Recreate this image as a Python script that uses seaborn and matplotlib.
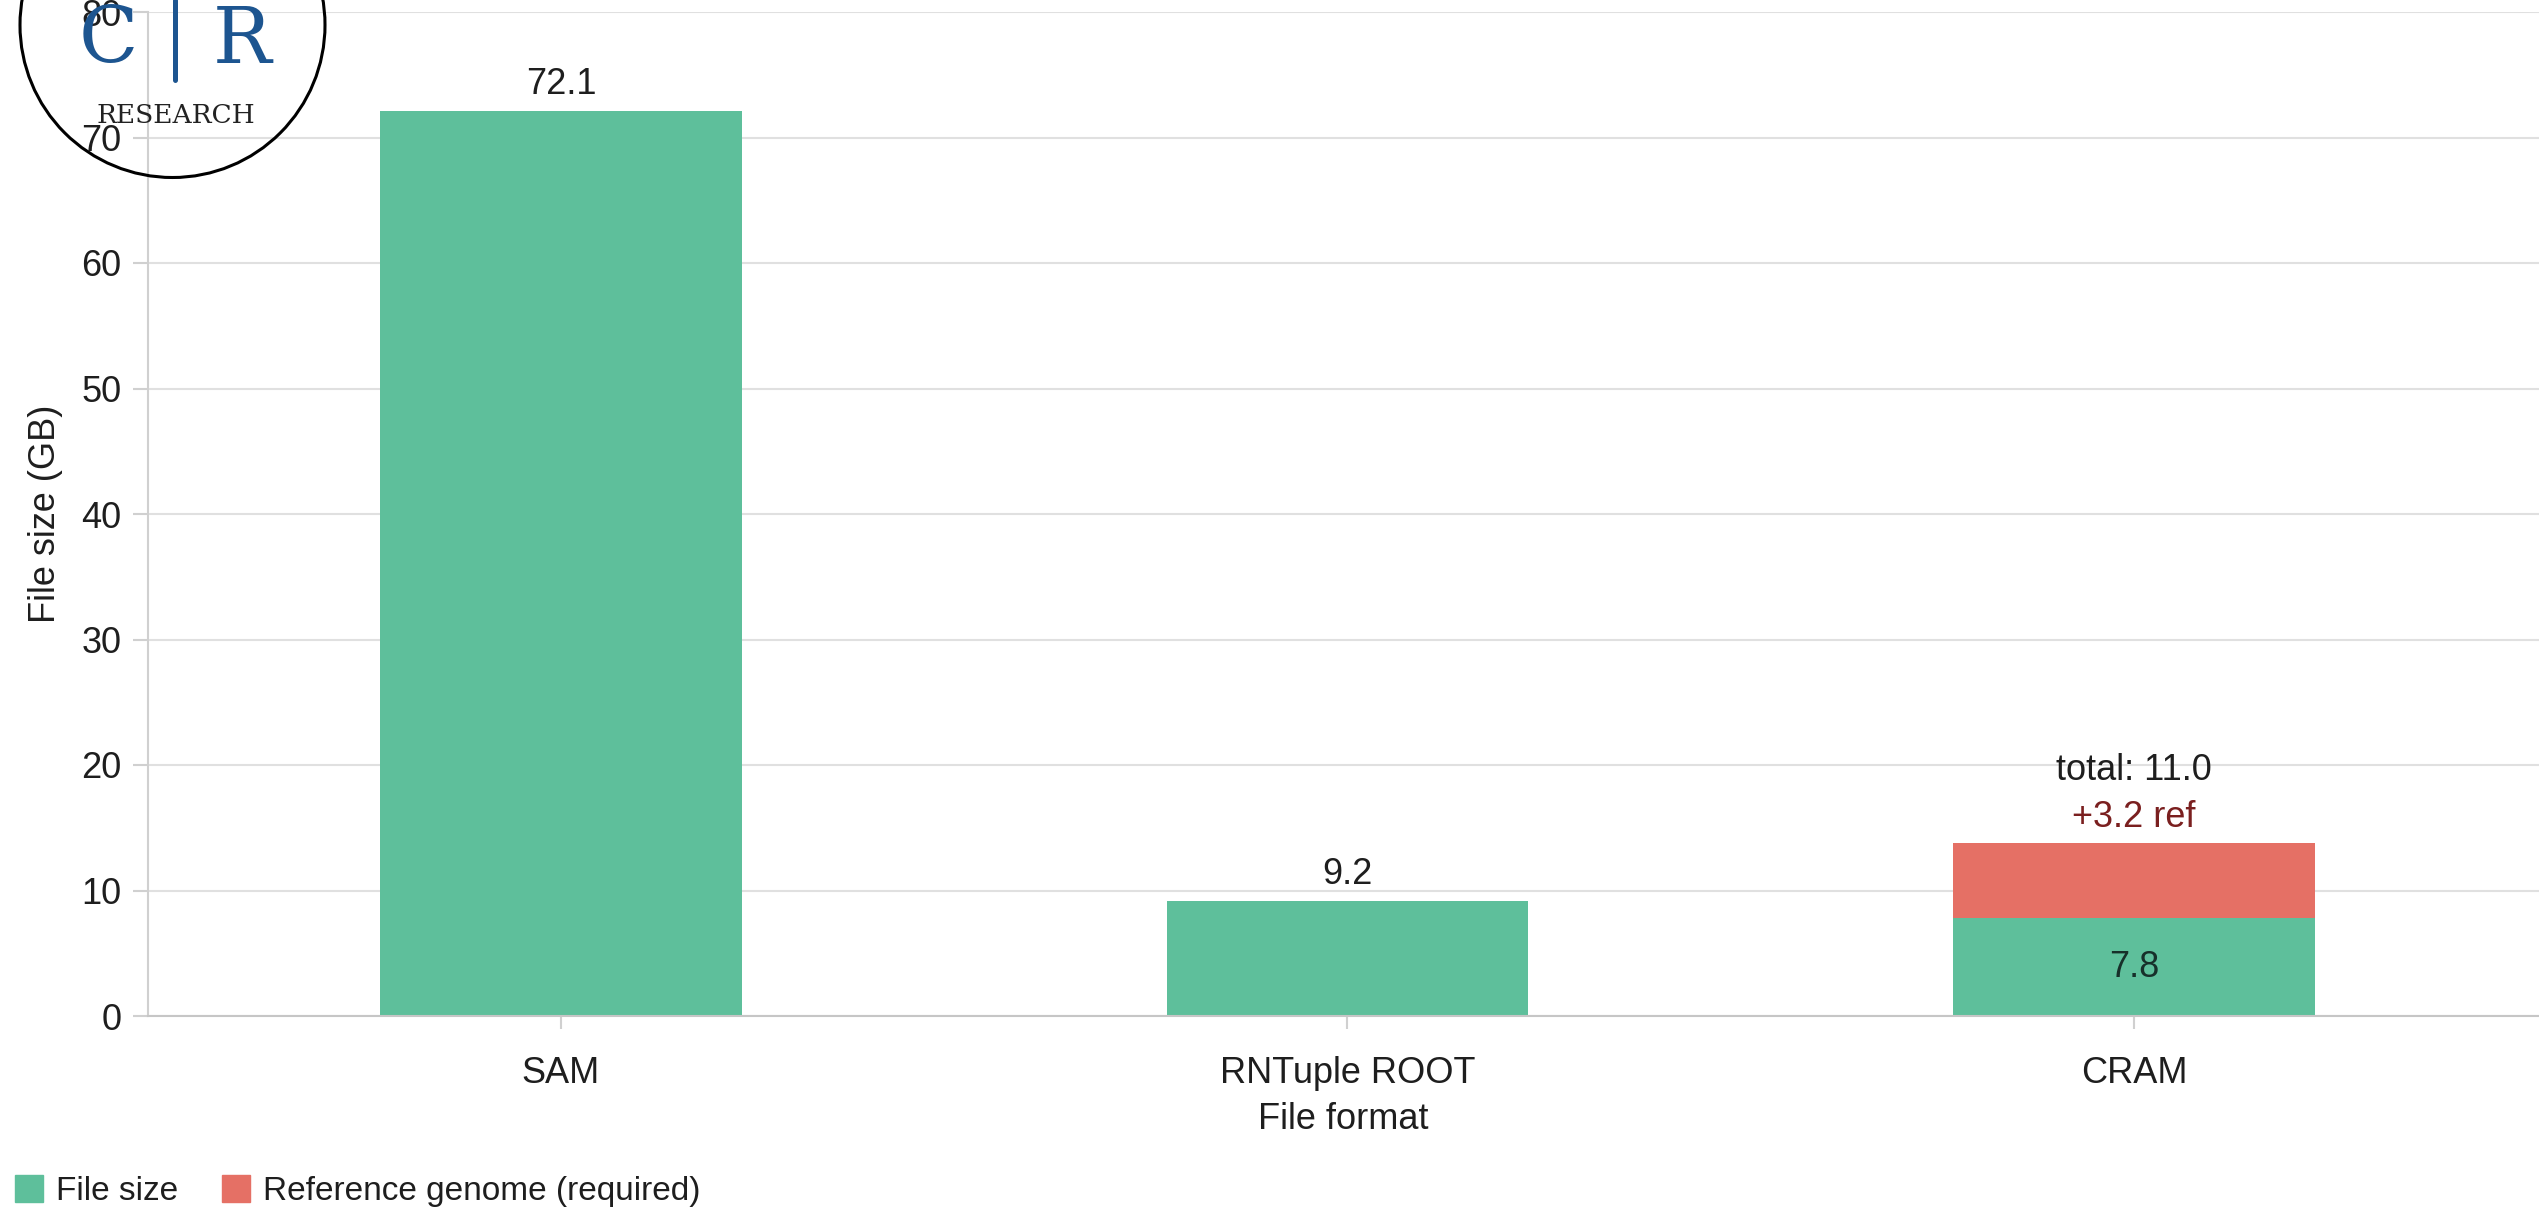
import matplotlib
matplotlib.use("Agg")
import matplotlib.pyplot as plt
from matplotlib.patches import Patch, Ellipse
from matplotlib.lines import Line2D
import pandas as pd
import seaborn as sns

# values
formats = ["SAM", "RNTuple ROOT", "CRAM"]
file_size = [72.1, 9.2, 7.8]
ref_genome = [0.0, 0.0, 6.0]   # red segment height as drawn in the picture
size_labels = ["72.1", "9.2", "7.8"]
total_label = "total: 11.0"
ref_label = "+3.2 ref"
yticks = [0, 10, 20, 30, 40, 50, 60, 70, 80]

GREEN = "#5ebf9b"
RED = "#e57065"
DARKRED = "#7a1f1f"
BLUE = "#1d5590"
TEXT = "#1e1e1e"

W, H = 2539, 1212

df = pd.DataFrame({"format": formats, "size": file_size, "ref": ref_genome})
df["top"] = [s + r if r > 0 else 0 for s, r in zip(df["size"], df["ref"])]

sns.set_theme(style="white")
plt.rcParams["font.family"] = ["Liberation Sans", "DejaVu Sans"]

fig = plt.figure(figsize=(W / 100, H / 100), dpi=100)
ax = fig.add_axes([148 / W, 1 - 1016 / H, 1 - 148 / W, (1016 - 12) / H])

# stacked bars: red reference segment underneath, green file size on top
sns.barplot(data=df, x="format", y="top", order=formats, color=RED,
            saturation=1, width=0.46, errorbar=None, linewidth=0, ax=ax)
sns.barplot(data=df, x="format", y="size", order=formats, color=GREEN,
            saturation=1, width=0.46, errorbar=None, linewidth=0, ax=ax)

for i, (s, r, lab) in enumerate(zip(file_size, ref_genome, size_labels)):
    if r > 0:
        ax.text(i, s / 2, lab, ha="center", va="center", fontsize=26,
                color="#17302a")
        ax.annotate(ref_label, (i, s + r), xytext=(0, 11.5),
                    textcoords="offset points", ha="center", va="baseline",
                    fontsize=26, color=DARKRED)
        ax.annotate(total_label, (i, s + r), xytext=(0, 45),
                    textcoords="offset points", ha="center", va="baseline",
                    fontsize=26, color=TEXT)
    else:
        ax.annotate(lab, (i, s), xytext=(0, 12), textcoords="offset points",
                    ha="center", va="baseline", fontsize=26, color=TEXT)

ax.set_xlim(-0.525, 2.515)
ax.set_ylim(0, 80)
ax.set_yticks(yticks)
ax.yaxis.grid(True, color="#e0e0e0", lw=1.5)
ax.set_axisbelow(True)

for side in ["top", "right"]:
    ax.spines[side].set_visible(False)
ax.spines["left"].set_color("#d0d0d0")
ax.spines["left"].set_linewidth(1.5)
ax.spines["bottom"].set_color("#c6c6c6")
ax.spines["bottom"].set_linewidth(1.5)

ax.tick_params(axis="y", left=True, length=11, width=1.5, color="#d0d0d0",
               pad=8, labelsize=26, labelcolor=TEXT)
ax.tick_params(axis="x", bottom=True, length=9, width=1.5, color="#d0d0d0",
               pad=20, labelsize=26, labelcolor=TEXT)

ax.set_xlabel("File format", fontsize=26, color=TEXT, labelpad=8)
ax.set_ylabel("File size (GB)", fontsize=26, color=TEXT, labelpad=13)

fig.legend(handles=[Patch(color=GREEN, label="File size"),
                    Patch(color=RED, label="Reference genome (required)")],
           loc="center left", bbox_to_anchor=(15 / W, 1 - 1191 / H), ncol=2,
           frameon=False, fontsize=24, handlelength=0.84, handleheight=0.84,
           handletextpad=0.4, columnspacing=1.3, borderpad=0,
           borderaxespad=0, labelcolor=TEXT)

# logo in the top-left corner
fig.add_artist(Ellipse((172.5 / W, 1 - 25 / H), 305 / W, 305 / H,
                       transform=fig.transFigure, fill=False,
                       edgecolor="black", lw=2.2, zorder=10))
fig.text(108 / W, 1 - 63 / H, "C", ha="center", va="baseline",
         family="DejaVu Serif", fontsize=56, color=BLUE, zorder=11)
fig.text(242 / W, 1 - 63 / H, "R", ha="center", va="baseline",
         family="DejaVu Serif", fontsize=56, color=BLUE, zorder=11)
fig.add_artist(Line2D([175 / W, 175 / W], [1.0, 1 - 80 / H],
                      transform=fig.transFigure, color=BLUE, lw=3.6,
                      solid_capstyle="round", zorder=11))
fig.text(176 / W, 1 - 123 / H, "RESEARCH", ha="center", va="baseline",
         family="DejaVu Serif", fontsize=19, color="#222222", zorder=11)

fig.savefig("out.png", dpi=100)
plt.close(fig)
